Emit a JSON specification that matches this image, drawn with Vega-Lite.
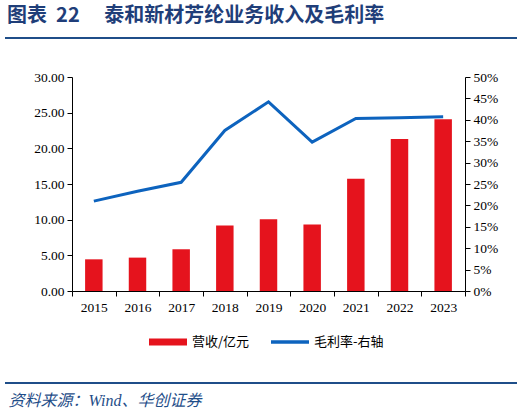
{
  "$schema": "https://vega.github.io/schema/vega-lite/v6.json",
  "autosize": {"type": "none"},
  "width": 393,
  "height": 214,
  "padding": {"left": 72, "top": 77, "right": 59, "bottom": 124},
  "background": "white",
  "title": {
    "text": "图表\u00a0\u00a022\u3000\u00a0泰和新材芳纶业务收入及毛利率",
    "anchor": "start",
    "frame": "group",
    "dx": -65,
    "offset": 11,
    "font": "Noto Sans CJK SC",
    "fontSize": 20,
    "fontWeight": "bold",
    "color": "#1F3E79"
  },
  "config": {
    "view": {"stroke": null},
    "axis": {
      "grid": false,
      "domainColor": "black",
      "tickColor": "black",
      "labelColor": "black",
      "labelFont": "Liberation Serif",
      "labelFontSize": 13.5,
      "tickSize": 5
    }
  },
  "data": {
    "values": [
      {"year": "2015", "revenue": 4.44, "margin": 0.210},
      {"year": "2016", "revenue": 4.68, "margin": 0.233},
      {"year": "2017", "revenue": 5.85, "margin": 0.254},
      {"year": "2018", "revenue": 9.17, "margin": 0.375},
      {"year": "2019", "revenue": 10.06, "margin": 0.442},
      {"year": "2020", "revenue": 9.31, "margin": 0.348},
      {"year": "2021", "revenue": 15.73, "margin": 0.403},
      {"year": "2022", "revenue": 21.30, "margin": 0.405},
      {"year": "2023", "revenue": 24.06, "margin": 0.407}
    ]
  },
  "encoding": {
    "x": {
      "field": "year",
      "type": "ordinal",
      "scale": {"paddingInner": 0, "paddingOuter": 0},
      "axis": {
        "labelAngle": 0,
        "tickBand": "extent",
        "labelPadding": 4,
        "title": "资料来源：Wind、华创证券",
        "titleX": -64,
        "titleY": 109,
        "titleAlign": "left",
        "titleBaseline": "middle",
        "titleFont": "Liberation Serif, Noto Sans CJK SC",
        "titleFontSize": 16,
        "titleFontStyle": "italic",
        "titleFontWeight": "normal",
        "titleColor": "#1F4E89"
      }
    }
  },
  "layer": [
    {
      "mark": {"type": "bar", "width": {"band": 0.4}},
      "encoding": {
        "y": {
          "field": "revenue",
          "type": "quantitative",
          "scale": {"domain": [0, 30], "nice": false},
          "axis": {"values": [0, 5, 10, 15, 20, 25, 30], "format": ".2f", "title": null, "labelPadding": 3}
        },
        "color": {
          "datum": "营收/亿元",
          "scale": {"range": ["#E5131D"]},
          "legend": {
            "orient": "none",
            "legendX": 77,
            "legendY": 246,
            "title": null,
            "padding": 0,
            "symbolType": "M-1,-0.18L1,-0.18L1,0.18L-1,0.18Z",
            "symbolSize": 1444,
            "symbolStrokeWidth": 0,
            "labelOffset": 5,
            "labelFont": "Noto Sans CJK SC",
            "labelFontSize": 13,
            "labelColor": "black"
          }
        }
      }
    },
    {
      "mark": {"type": "line", "strokeWidth": 3},
      "encoding": {
        "y": {
          "field": "margin",
          "type": "quantitative",
          "scale": {"domain": [0, 0.5], "nice": false},
          "axis": {"orient": "right", "values": [0, 0.05, 0.1, 0.15, 0.2, 0.25, 0.3, 0.35, 0.4, 0.45, 0.5], "format": ".0%", "title": null, "labelPadding": 3}
        },
        "color": {
          "datum": "毛利率-右轴",
          "scale": {"range": ["#0D63BE"]},
          "legend": {
            "orient": "none",
            "legendX": 199,
            "legendY": 246,
            "title": null,
            "padding": 0,
            "symbolType": "M-1,-0.09L1,-0.09L1,0.09L-1,0.09Z",
            "symbolSize": 1444,
            "symbolStrokeWidth": 0,
            "symbolFillColor": "#0D63BE",
            "labelOffset": 5,
            "labelFont": "Noto Sans CJK SC",
            "labelFontSize": 13,
            "labelColor": "black"
          }
        }
      }
    },
    {
      "data": {"values": [{"pos": -39}, {"pos": 306}]},
      "mark": {"type": "rule", "x": -67, "x2": 445, "color": "#1F4E89", "strokeWidth": 2},
      "encoding": {"y": {"field": "pos", "type": "quantitative", "scale": null}, "x": null}
    }
  ],
  "resolve": {"scale": {"y": "independent", "color": "independent"}}
}
